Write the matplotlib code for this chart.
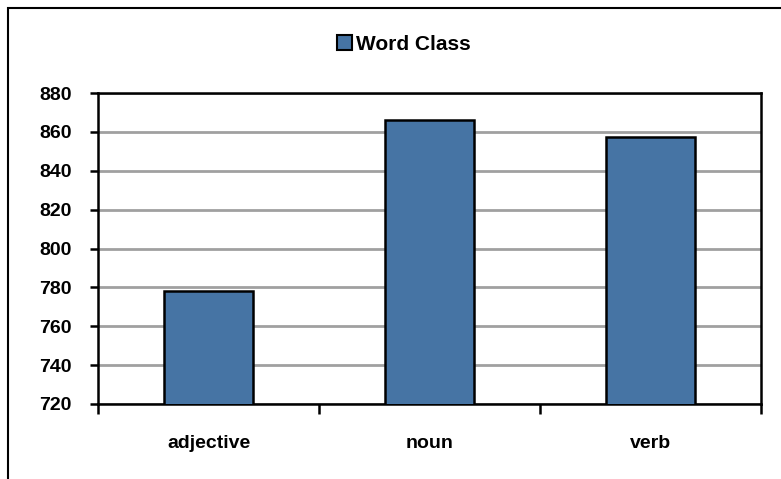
import matplotlib.pyplot as plt
from matplotlib.patches import Rectangle, Patch

categories = ["adjective", "noun", "verb"]
values = [778, 866, 857.5]
series_name = "Word Class"
y_ticks = [720, 740, 760, 780, 800, 820, 840, 860, 880]

plt.rcParams['font.family'] = ['Liberation Sans', 'DejaVu Sans']
plt.rcParams['font.weight'] = 'bold'

W, H = 781, 479
fig = plt.figure(figsize=(W / 100, H / 100), dpi=100)

# outer chart frame
fig.patches.append(Rectangle((8 / W, -0.05), 1.2, 1 - 8 / H + 0.05,
                             transform=fig.transFigure, fill=False,
                             edgecolor='black', linewidth=1.5))

ax = fig.add_axes([98 / W, 1 - 404 / H, (761 - 98) / W, (404 - 93) / H])
bar_color = '#4674A4'
x = range(len(categories))
ax.bar(x, values, width=0.4, color=bar_color, edgecolor='black',
       linewidth=1.8, zorder=3)

ax.set_xlim(-0.5, len(categories) - 0.5)
ax.set_ylim(y_ticks[0], y_ticks[-1])
ax.set_yticks(y_ticks)
ax.set_yticklabels([str(t) for t in y_ticks], fontsize=14, fontweight='bold')
ax.yaxis.grid(True, color='#A0A0A0', linewidth=2, zorder=0)
ax.set_axisbelow(True)

ax.set_xticks(list(x))
ax.set_xticklabels(categories, fontsize=14, fontweight='bold')
ax.tick_params(axis='x', length=0, pad=22)
ax.set_xticks([-0.5, 0.5, 1.5, 2.5], minor=True)
ax.tick_params(axis='x', which='minor', length=7, width=1.8, direction='out')
ax.tick_params(axis='y', length=6, width=1.8, direction='out', pad=13)

for s in ax.spines.values():
    s.set_linewidth(1.8)
    s.set_color('black')

handle = Patch(facecolor=bar_color, edgecolor='black', linewidth=1.5)
fig.legend([handle], [series_name], loc='center left',
           bbox_to_anchor=(337 / W, 1 - 44 / H),
           frameon=False, prop={'size': 15, 'weight': 'bold'},
           borderpad=0, borderaxespad=0,
           handlelength=0.7, handleheight=0.7, handletextpad=0.2)

fig.savefig('out.png', dpi=100)
